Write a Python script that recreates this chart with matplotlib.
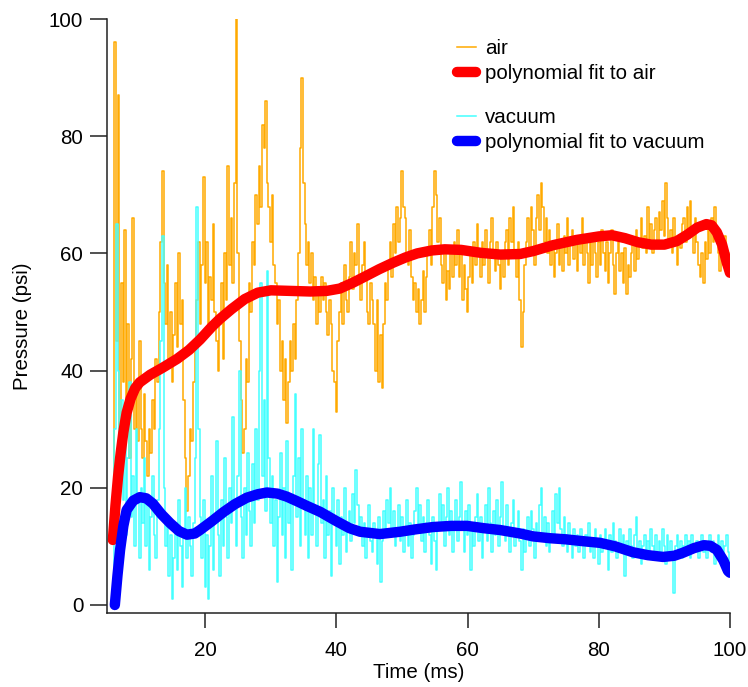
import numpy as np
from matplotlib import pyplot as plt

air = [20, 96, 45, 87, 30, 55, 38, 64,
       35, 48, 25, 42, 66, 30, 38, 28,
       45, 30, 25, 36, 28, 22, 30, 26,
       35, 30, 42, 38, 50, 62, 74, 55,
       48, 58, 42, 50, 38, 46, 55, 44,
       60, 48, 52, 35, 25, 16, 22, 30,
       28, 38, 45, 52, 62, 48, 58, 73,
       55, 62, 48, 56, 52, 65, 50, 45,
       40, 48, 55, 42, 60, 52, 75, 58,
       66, 55, 72, 100, 60, 45, 35, 26,
       30, 42, 38, 55, 50, 62, 58, 70,
       65, 75, 68, 82, 78, 86, 72, 68,
       62, 70, 58, 55, 48, 52, 40, 45,
       35, 42, 31, 38, 45, 40, 48, 42,
       52, 60, 78, 90, 72, 65, 58, 62,
       55, 60, 52, 56, 48, 54, 50, 56,
       52, 55, 50, 46, 52, 48, 40, 38,
       33, 45, 50, 55, 48, 58, 52, 50,
       56, 62, 54, 60, 58, 65, 55, 52,
       58, 62, 56, 50, 48, 55, 52, 48,
       40, 52, 38, 46, 37, 48, 55, 52,
       58, 62, 56, 65, 60, 68, 62, 66,
       74, 68, 66, 60, 58, 64, 56, 52,
       55, 50, 54, 48, 52, 57, 50, 56,
       60, 64, 58, 68, 74, 70, 62, 66,
       58, 55, 60, 52, 57, 54, 60, 56,
       62, 58, 64, 56, 60, 52, 58, 54,
       50, 56, 60, 55, 62, 58, 65, 60,
       56, 62, 58, 64, 60, 55, 62, 66,
       60, 57, 62, 58, 54, 60, 56, 62,
       64, 58, 66, 62, 68, 60, 56, 62,
       52, 44, 50, 58,
       62, 66, 60, 68, 64, 58, 66, 70,
       64, 72, 68, 62, 66, 60, 64, 58,
       62, 56, 60, 65, 58, 62, 57, 63,
       60, 66, 58, 62, 64, 59, 63, 57,
       62, 60, 66, 58, 63, 60, 55, 62,
       58, 63, 60, 56, 62, 58, 64, 60,
       57, 62, 55, 60, 64, 58, 53, 60,
       62, 57, 60, 55, 61, 53, 58, 56,
       60, 62, 57, 64, 59, 62, 66, 61,
       63, 60, 68, 62, 65, 60, 64, 66,
       62, 67, 64, 69, 63, 72, 66, 62,
       64, 60, 66, 62, 58, 63, 61, 65,
       66, 62, 68, 64, 69, 63, 60, 66,
       62, 58, 56, 60, 55, 62, 59, 64,
       60, 66, 62, 68, 64, 60, 57, 62,
       58, 63, 59, 60, 58]

vacuum = [3, 30, 65, 40, 22, 35, 18, 28,
          12, 25, 38, 15, 22, 10, 30, 18,
          8, 20, 14, 25, 10, 18, 6, 15,
          22, 12, 8, 18, 30, 45, 63, 20,
          10, 15, 5, 12, 1, 8, 14, 6,
          18, 10, 3, 12, 20, 8, 15, 10,
          5, 14, 25, 68, 30, 15, 8, 18,
          3, 12, 1, 10, 22, 6, 14, 28,
          12, 5, 18, 10, 25, 15, 8, 20,
          14, 32, 18, 10, 22, 40, 15, 8,
          20, 12, 26, 16, 10, 24, 14, 30,
          18, 40, 55, 22, 35, 16, 57, 25,
          14, 22, 10, 18, 4, 15, 26, 12,
          20, 8, 28, 14, 18, 6, 22, 36,
          15, 25, 10, 30, 18, 12, 22, 8,
          20, 12, 30, 16, 10, 24, 29, 14,
          18, 8, 22, 12, 16, 5, 20, 14,
          10, 18, 7, 15, 12, 20, 9, 14,
          16, 11, 19, 14, 23, 17, 12, 15,
          10, 14, 8, 13, 17, 11, 9, 14,
          12, 7, 15, 4, 11, 16, 13, 18,
          14, 20, 12, 16, 10, 13, 17, 11,
          15, 9, 12, 18, 10, 14, 8, 12,
          16, 20, 13, 17, 11, 15, 9, 14,
          18, 12, 7, 15, 11, 6, 14, 19,
          13, 17, 10, 15, 20, 12, 16, 9,
          14, 18, 11, 15, 21, 13, 9, 16,
          12, 17, 6, 14, 10, 15, 19, 11,
          15, 8, 13, 17, 11, 20, 14, 9,
          16, 12, 18, 10, 15, 21, 13, 11,
          17, 12, 9, 14, 18, 10, 13, 16,
          11, 6, 13, 9,
          12, 15, 10, 16, 13, 8, 14, 11,
          17, 20, 12, 15, 10, 14, 9, 12,
          16, 11, 19, 14, 20, 13, 10, 15,
          12, 9, 14, 11, 8, 13, 10, 12,
          9, 13, 11, 8, 12, 10, 14, 9,
          11, 8, 13, 10, 7, 12, 9, 11,
          13, 10, 6, 12, 9, 14, 11, 8,
          10, 13, 9, 12, 5, 11, 9, 13,
          10, 8, 12, 15, 9, 11, 7, 10,
          12, 9, 11, 8, 13, 10, 9, 12,
          8, 11, 9, 13, 10, 7, 12, 9,
          11, 8, 2, 10, 12, 9, 11, 8,
          10, 12, 9, 11, 8, 12, 10, 9,
          11, 8, 10, 12, 9, 11, 8, 10,
          12, 9, 11, 7, 10, 12, 9, 11,
          8, 10, 12, 9, 7]

# polynomial fits
fit_air_t = [5.9, 6.3, 6.7, 7.1, 7.5, 8.0, 8.6, 9.3, 10.0, 11.6, 13.5, 15.7,
             17.5, 19.2, 21.0, 22.2, 24.0, 26.0, 28.0, 30.0, 33.0, 36.0, 38.5,
             40.5, 42.5, 44.6, 46.5, 48.6, 50.5, 52.3, 54.5, 56.5, 59.0, 62.0,
             65.0, 68.0, 70.0, 73.0, 76.6, 80.0, 82.0, 84.0, 86.0, 88.0, 90.0,
             91.9, 93.5, 95.0, 96.4, 97.2, 98.0, 98.8, 99.5, 100.0]
fit_air = [11.1, 17.0, 22.0, 26.0, 29.5, 32.8, 35.2, 37.0, 38.0, 39.3, 40.5, 42.0,
           43.5, 45.3, 47.5, 48.8, 50.5, 52.2, 53.3, 53.7, 53.6, 53.5, 53.6,
           54.0, 55.0, 56.2, 57.3, 58.4, 59.3, 60.0, 60.5, 60.7, 60.6, 60.1,
           59.8, 59.9, 60.4, 61.4, 62.3, 62.9, 63.1, 62.6, 61.9, 61.5, 61.5,
           62.1, 63.2, 64.4, 65.0, 64.8, 63.6, 61.5, 58.5, 56.7]

fit_vac_t = [6.2, 6.6, 7.0, 7.5, 8.0, 9.0, 10.0, 11.0, 12.0, 13.3, 14.6, 16.0,
             17.2, 18.4, 19.2, 21.0, 22.7, 24.5, 26.3, 28.0, 29.4, 31.0, 32.4,
             34.0, 35.5, 37.5, 40.0, 42.0, 43.6, 46.6, 49.7, 52.0, 54.7, 57.5,
             59.9, 62.5, 64.9, 68.0, 70.0, 72.5, 75.0, 77.5, 80.2, 82.5, 85.2,
             87.5, 89.8, 91.5, 92.8, 94.5, 96.0, 97.0, 98.0, 99.0, 99.7, 100.0]
fit_vac = [0.0, 5.0, 9.4, 13.5, 16.2, 17.8, 18.4, 18.2, 17.3, 15.5, 14.0, 12.6,
           12.0, 12.2, 12.8, 14.3, 15.8, 17.2, 18.3, 18.9, 19.2, 19.0, 18.5,
           17.7, 16.9, 15.9, 14.3, 13.1, 12.5, 12.1, 12.5, 12.9, 13.3, 13.5,
           13.5, 13.1, 12.8, 12.2, 11.7, 11.4, 11.2, 10.9, 10.6, 10.0, 9.0,
           8.5, 8.2, 8.4, 8.9, 9.7, 10.2, 10.1, 9.4, 7.6, 5.8, 5.5]

t_air = np.linspace(6.0, 100.0, len(air))
t_vac = np.linspace(6.0, 100.0, len(vacuum))

plt.rcParams['font.family'] = ['Liberation Sans', 'DejaVu Sans']
plt.rcParams['font.size'] = 14.8

fig = plt.figure(figsize=(7.48, 6.87), dpi=100)
ax = fig.add_axes([0.1430, 0.1077, 0.8329, 0.8646])

l_air, = ax.plot(t_air, air, color='#ffaa00', lw=1.1, drawstyle='steps-mid',
                 label='air')
l_vac, = ax.plot(t_vac, vacuum, color='#44ffff', lw=1.1, drawstyle='steps-mid',
                 label='vacuum')
f_air, = ax.plot(fit_air_t, fit_air, color='#ff0000', lw=7.5,
                 solid_capstyle='round', solid_joinstyle='round',
                 label='polynomial fit to air')
f_vac, = ax.plot(fit_vac_t, fit_vac, color='#0000ff', lw=7.5,
                 solid_capstyle='round', solid_joinstyle='round',
                 label='polynomial fit to vacuum')

ax.set_xlim(5.0, 100.0)
ax.set_ylim(-1.37, 100.0)
ax.set_xticks([20, 40, 60, 80, 100])
ax.set_yticks([0, 20, 40, 60, 80, 100])

for side in ['top', 'right']:
    ax.spines[side].set_visible(False)
for side in ['left', 'bottom']:
    ax.spines[side].set_linewidth(1.1)
    ax.spines[side].set_color('#222222')
ax.tick_params(axis='y', direction='out', length=12, width=1.1,
               color='#222222', pad=5)
ax.tick_params(axis='x', direction='out', length=11, width=1.1,
               color='#222222', pad=9)

ax.set_xlabel('Time (ms)')
ax.set_ylabel('Pressure (psi)')
ax.xaxis.set_label_coords(0.5, -0.085)
ax.yaxis.set_label_coords(-0.121, 0.483)

# two legend blocks, like the Igor annotation
leg_kw = dict(loc='upper left', bbox_transform=fig.transFigure, frameon=False,
              borderpad=0, borderaxespad=0, labelspacing=0.3,
              handlelength=0.9, handletextpad=0.45)
leg1 = ax.legend(handles=[l_air, f_air],
                 bbox_to_anchor=(457 / 748, 1 - 39 / 687), **leg_kw)
ax.add_artist(leg1)
ax.legend(handles=[l_vac, f_vac],
          bbox_to_anchor=(457 / 748, 1 - 108 / 687), **leg_kw)

plt.savefig('out.png', dpi=100)
